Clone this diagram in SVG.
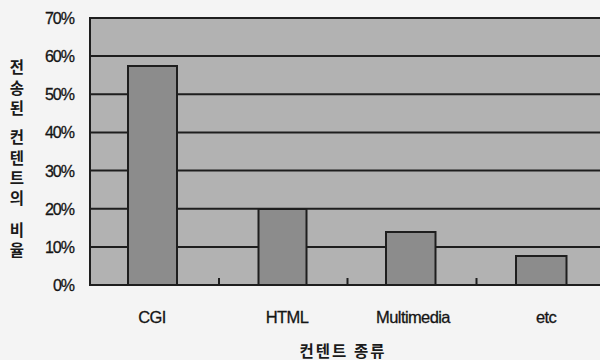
<svg xmlns="http://www.w3.org/2000/svg" width="600" height="360" viewBox="0 0 600 360">
  <style>
    .plot { fill: #b2b2b2; }
    .grid { stroke: #1e1e1e; stroke-width: 2; fill: none; }
    .bar { fill: #8c8c8c; stroke: #1e1e1e; stroke-width: 2; }
    .tick { stroke: #1e1e1e; stroke-width: 2; }
    .ylab { font-family: "Liberation Sans", Arial, sans-serif; font-size: 16px; fill: #151515; text-anchor: end; letter-spacing: -1px; stroke: #151515; stroke-width: 0.3; }
    .xlab { font-family: "Liberation Sans", Arial, sans-serif; font-size: 16.5px; fill: #151515; text-anchor: middle; letter-spacing: -0.6px; stroke: #151515; stroke-width: 0.3; }
    .title { font-family: "Noto Sans CJK KR", "Noto Sans", sans-serif; font-size: 15.5px; font-weight: bold; fill: #1a1a1a; text-anchor: middle; }
  </style>
  <rect width="600" height="360" fill="#f4f4f4"/>

  <!-- plot area -->
  <g id="plot-area">
    <rect class="plot" x="90" y="18" width="512" height="267"/>
    <path class="grid" d="M90 18H602M90 56.1H602M90 94.3H602M90 132.4H602M90 170.6H602M90 208.7H602M90 246.9H602"/>
    <path class="grid" d="M90 17V286M89 285H602"/>
    <path class="tick" d="M219 278V285M347.5 278V285M476.5 278V285"/>
  </g>

  <!-- bars -->
  <g id="bar-cgi"><rect class="bar" x="128" y="66" width="49" height="219"/></g>
  <g id="bar-html"><rect class="bar" x="258.5" y="209" width="48" height="76"/></g>
  <g id="bar-multimedia"><rect class="bar" x="386" y="232" width="49.5" height="53"/></g>
  <g id="bar-etc"><rect class="bar" x="516" y="256" width="50.5" height="29"/></g>

  <!-- value axis labels -->
  <g id="y-axis-labels">
    <text class="ylab" x="74" y="24">70%</text>
    <text class="ylab" x="74" y="62">60%</text>
    <text class="ylab" x="74" y="100">50%</text>
    <text class="ylab" x="74" y="138">40%</text>
    <text class="ylab" x="74" y="176.5">30%</text>
    <text class="ylab" x="74" y="214.5">20%</text>
    <text class="ylab" x="74" y="252.5">10%</text>
    <text class="ylab" x="74" y="291">0%</text>
  </g>

  <!-- category labels -->
  <g id="x-axis-labels">
    <text class="xlab" x="152" y="323">CGI</text>
    <text class="xlab" x="287" y="323">HTML</text>
    <text class="xlab" x="413" y="323">Multimedia</text>
    <text class="xlab" x="546" y="323">etc</text>
  </g>

  <!-- axis titles -->
  <g id="x-title">
    <text class="title" x="343" y="357" letter-spacing="2">컨텐트 종류</text>
  </g>
  <g id="y-title">
    <text class="title" x="17" y="73">전</text>
    <text class="title" x="17" y="94">송</text>
    <text class="title" x="17" y="114">된</text>
    <text class="title" x="17" y="143">컨</text>
    <text class="title" x="17" y="164">텐</text>
    <text class="title" x="17" y="184">트</text>
    <text class="title" x="17" y="204">의</text>
    <text class="title" x="17" y="236">비</text>
    <text class="title" x="17" y="256">율</text>
  </g>
</svg>
